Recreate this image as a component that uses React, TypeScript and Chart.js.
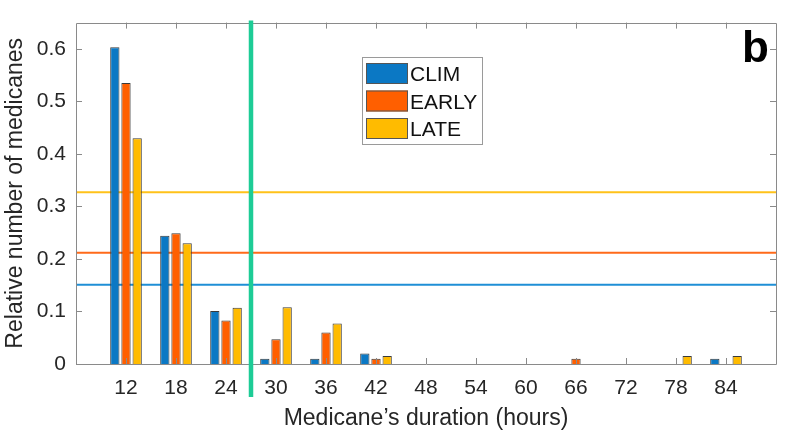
import React, { useEffect, useRef } from "react";
import { Chart, registerables } from "chart.js";

Chart.register(...registerables);

// Duration classes (hours)
const HOURS = [12, 18, 24, 30, 36, 42, 48, 54, 60, 66, 72, 78, 84];
const X_MIN = 6;
const X_MAX = 90;

// Relative number of medicanes per class
const CLIM = [0.603, 0.244, 0.101, 0.01, 0.01, 0.02, null, null, null, null, null, null, 0.01];
const EARLY = [0.535, 0.249, 0.083, 0.047, 0.06, 0.01, null, null, null, 0.01, null, null, null];
const LATE = [0.43, 0.23, 0.107, 0.108, 0.077, 0.015, null, null, null, null, null, 0.015, 0.015];

// Horizontal reference levels
const CLIM_LEVEL = 0.151;
const EARLY_LEVEL = 0.212;
const LATE_LEVEL = 0.327;

// Vertical divider (hours)
const DIVIDER_HOURS = 27;

const Y_TICKS = [0, 0.1, 0.2, 0.3, 0.4, 0.5, 0.6];
const Y_MAX = 0.65;

const SERIES_NAMES = ["CLIM", "EARLY", "LATE"];
const BAR_COLORS = ["#0b78c4", "#ff5f00", "#ffbb00"];
const LINE_COLORS = ["#1f8fd6", "#ff6a1a", "#ffc21a"];
const PANEL_LABEL = "b";

const FONT = '"Liberation Sans", Arial, Helvetica, sans-serif';
const TEXT = "#262626";
const AXIS = "#8a8a8a";

export default function App() {
  const ref = useRef<HTMLCanvasElement | null>(null);

  useEffect(() => {
    const canvas = ref.current;
    if (!canvas) return;

    const toPts = (arr: (number | null)[]) => HOURS.map((h, i) => ({ x: h, y: arr[i] }));
    const levelPts = (v: number) => [
      { x: X_MIN, y: v },
      { x: X_MAX, y: v },
    ];

    const overlay = {
      id: "overlay",
      afterDatasetsDraw(chart: any) {
        const { ctx, chartArea, scales } = chart;
        const xs = scales.x;
        const ys = scales.y;
        const { left, right, top, bottom } = chartArea;
        ctx.save();
        // axes box
        ctx.strokeStyle = AXIS;
        ctx.lineWidth = 1;
        ctx.beginPath();
        ctx.rect(Math.round(left) + 0.5, Math.round(top) + 0.5, Math.round(right - left), Math.round(bottom - top));
        ctx.stroke();
        // inner ticks
        const tl = 6;
        ctx.beginPath();
        HOURS.forEach((h) => {
          const px = Math.round(xs.getPixelForValue(h)) + 0.5;
          ctx.moveTo(px, bottom);
          ctx.lineTo(px, bottom - tl);
          ctx.moveTo(px, top);
          ctx.lineTo(px, top + tl);
        });
        Y_TICKS.forEach((v) => {
          const py = Math.round(ys.getPixelForValue(v)) + 0.5;
          ctx.moveTo(left, py);
          ctx.lineTo(left + tl, py);
          ctx.moveTo(right, py);
          ctx.lineTo(right - tl, py);
        });
        ctx.stroke();

        // legend
        const lx = 362.5, ly = 57.5, lw = 120, lh = 87;
        ctx.fillStyle = "#ffffff";
        ctx.fillRect(lx, ly, lw, lh);
        ctx.strokeStyle = "#9a9a9a";
        ctx.strokeRect(lx, ly, lw, lh);
        SERIES_NAMES.forEach((name, i) => {
          const cy = 73.5 + i * 27.5;
          ctx.fillStyle = BAR_COLORS[i];
          ctx.fillRect(366, cy - 10.5, 42, 21);
          ctx.strokeStyle = "#555";
          ctx.strokeRect(366.5, cy - 10, 41, 20);
          ctx.fillStyle = "#111";
          ctx.font = `21px ${FONT}`;
          ctx.textBaseline = "alphabetic";
          ctx.textAlign = "left";
          ctx.fillText(name, 410, cy + 7.5);
        });

        // panel label
        ctx.fillStyle = "#000";
        ctx.font = `bold 44px ${FONT}`;
        ctx.textAlign = "right";
        ctx.textBaseline = "alphabetic";
        ctx.fillText(PANEL_LABEL, 769, 62);
        ctx.restore();
      },
      afterDraw(chart: any) {
        const { ctx, chartArea, scales } = chart;
        const gx = scales.x.getPixelForValue(DIVIDER_HOURS);
        ctx.save();
        ctx.strokeStyle = "#1dcc96";
        ctx.lineWidth = 4.5;
        ctx.beginPath();
        ctx.moveTo(gx, chartArea.top - 2);
        ctx.lineTo(gx, chartArea.bottom + 33);
        ctx.stroke();
        ctx.restore();
      },
    };

    const barDs = (arr: (number | null)[], i: number) => ({
      type: "bar" as const,
      label: SERIES_NAMES[i],
      data: toPts(arr),
      backgroundColor: BAR_COLORS[i],
      borderColor: "#3a3a3a",
      borderWidth: 1,
      borderSkipped: "bottom",
      categoryPercentage: 0.67,
      barPercentage: 0.83,
      order: 1,
    });
    const lineDs = (v: number, i: number) => ({
      type: "line" as const,
      label: SERIES_NAMES[i] + " mean",
      data: levelPts(v),
      borderColor: LINE_COLORS[i],
      borderWidth: 2,
      pointRadius: 0,
      fill: false,
      order: 2,
    });

    const chart = new Chart(canvas, {
      type: "bar",
      data: {
        datasets: [
          barDs(CLIM, 0),
          barDs(EARLY, 1),
          barDs(LATE, 2),
          lineDs(CLIM_LEVEL, 0),
          lineDs(EARLY_LEVEL, 1),
          lineDs(LATE_LEVEL, 2),
        ] as any,
      },
      options: {
        animation: false,
        responsive: false,
        maintainAspectRatio: false,
        layout: { padding: { top: 13, right: 9, left: 0, bottom: 0 } },
        plugins: { legend: { display: false }, tooltip: { enabled: false } },
        scales: {
          x: {
            type: "linear",
            min: X_MIN,
            max: X_MAX,
            offset: false,
            grid: { display: false, drawTicks: false, offset: false },
            border: { display: false },
            ticks: {
              stepSize: 6,
              autoSkip: false,
              maxRotation: 0,
              padding: 12,
              color: TEXT,
              font: { family: FONT, size: 21 },
              callback: (v: any) => (HOURS.includes(Number(v)) ? String(v) : ""),
            },
            title: {
              display: true,
              text: "Medicane\u2019s duration (hours)",
              color: TEXT,
              font: { family: FONT, size: 23, lineHeight: 1.15 },
              padding: { top: 0, bottom: 0 },
            },
            afterFit: (s: any) => {
              s.height = 68;
            },
          },
          y: {
            type: "linear",
            min: 0,
            max: Y_MAX,
            grid: { display: false, drawTicks: false },
            border: { display: false },
            ticks: {
              stepSize: 0.1,
              includeBounds: false,
              padding: 10,
              color: TEXT,
              font: { family: FONT, size: 21 },
              callback: (v: any) => {
                const n = Math.round(Number(v) * 10) / 10;
                return Y_TICKS.some((t) => Math.abs(t - Number(v)) < 1e-6) ? String(n) : "";
              },
            },
            title: {
              display: true,
              text: "Relative number of medicanes",
              color: TEXT,
              font: { family: FONT, size: 23, lineHeight: 1.2 },
              padding: { top: 2, bottom: 0 },
            },
            afterFit: (s: any) => {
              s.width = 76;
            },
          },
        },
      } as any,
      plugins: [overlay],
    });

    return () => chart.destroy();
  }, []);

  return (
    <div style={{ position: "fixed", left: 0, top: 0, width: 788, height: 432, background: "#fff" }}>
      <canvas ref={ref} width={788} height={432} style={{ display: "block", width: 788, height: 432 }} />
    </div>
  );
}
